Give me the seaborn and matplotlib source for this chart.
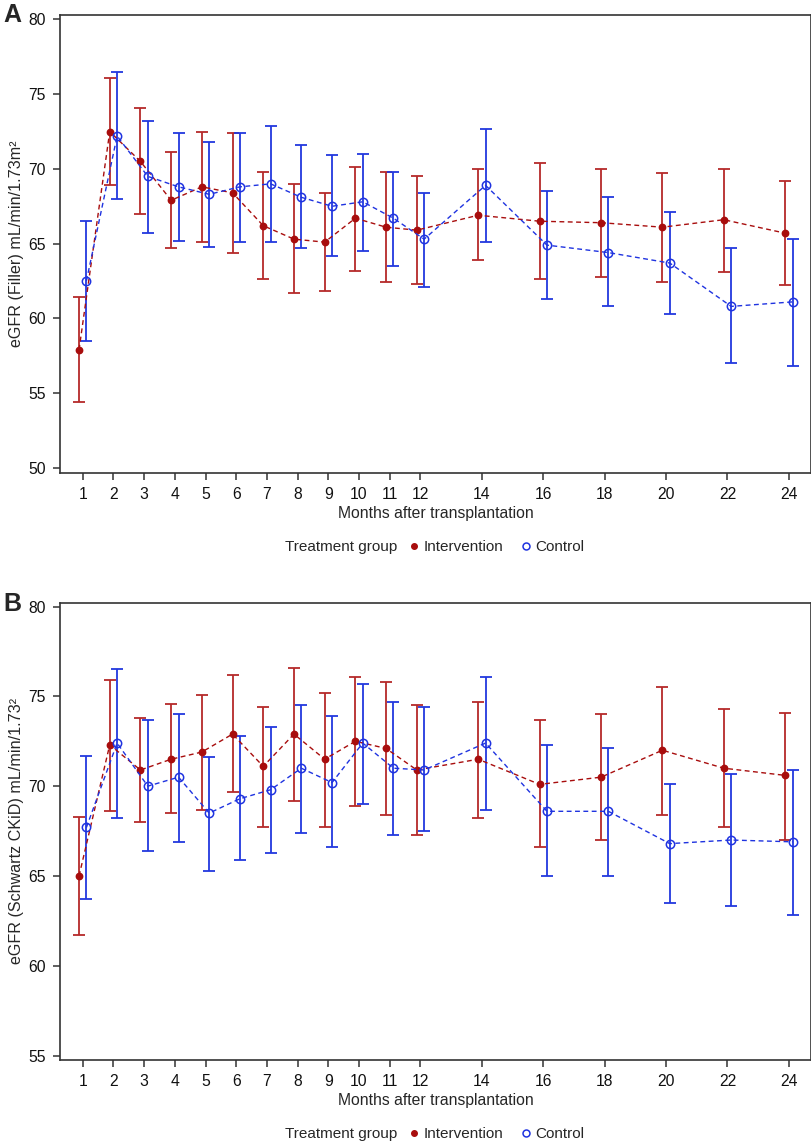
import numpy as np
import pandas as pd
import matplotlib
matplotlib.use("Agg")
import matplotlib.pyplot as plt
from matplotlib.lines import Line2D
import seaborn as sns

# ---------------- data ----------------
months = [1, 2, 3, 4, 5, 6, 7, 8, 9, 10, 11, 12, 14, 16, 18, 20, 22, 24]
xtick_labels = [str(m) for m in months]
groups = ["Intervention", "Control"]

# Panel A: eGFR (Filler)
a_int_mean = [57.9, 72.5, 70.5, 67.9, 68.8, 68.4, 66.2, 65.3, 65.1, 66.7, 66.1, 65.9, 66.9, 66.5, 66.4, 66.1, 66.6, 65.7]
a_int_low  = [54.4, 68.9, 67.0, 64.7, 65.1, 64.4, 62.6, 61.7, 61.8, 63.2, 62.4, 62.3, 63.9, 62.6, 62.8, 62.4, 63.1, 62.2]
a_int_high = [61.4, 76.1, 74.1, 71.1, 72.5, 72.4, 69.8, 69.0, 68.4, 70.1, 69.8, 69.5, 70.0, 70.4, 70.0, 69.7, 70.0, 69.2]
a_ctl_mean = [62.5, 72.2, 69.5, 68.8, 68.3, 68.8, 69.0, 68.1, 67.5, 67.8, 66.7, 65.3, 68.9, 64.9, 64.4, 63.7, 60.8, 61.1]
a_ctl_low  = [58.5, 68.0, 65.7, 65.2, 64.8, 65.1, 65.1, 64.7, 64.2, 64.5, 63.5, 62.1, 65.1, 61.3, 60.8, 60.3, 57.0, 56.8]
a_ctl_high = [66.5, 76.5, 73.2, 72.4, 71.8, 72.4, 72.9, 71.6, 70.9, 71.0, 69.8, 68.4, 72.7, 68.5, 68.1, 67.1, 64.7, 65.3]

# Panel B: eGFR (Schwartz CKiD)
b_int_mean = [65.0, 72.3, 70.9, 71.5, 71.9, 72.9, 71.1, 72.9, 71.5, 72.5, 72.1, 70.9, 71.5, 70.1, 70.5, 72.0, 71.0, 70.6]
b_int_low  = [61.7, 68.6, 68.0, 68.5, 68.7, 69.7, 67.7, 69.2, 67.7, 68.9, 68.4, 67.3, 68.2, 66.6, 67.0, 68.4, 67.7, 67.0]
b_int_high = [68.3, 75.9, 73.8, 74.6, 75.1, 76.2, 74.4, 76.6, 75.2, 76.1, 75.8, 74.5, 74.7, 73.7, 74.0, 75.5, 74.3, 74.1]
b_ctl_mean = [67.7, 72.4, 70.0, 70.5, 68.5, 69.3, 69.8, 71.0, 70.2, 72.4, 71.0, 70.9, 72.4, 68.6, 68.6, 66.8, 67.0, 66.9]
b_ctl_low  = [63.7, 68.2, 66.4, 66.9, 65.3, 65.9, 66.3, 67.4, 66.6, 69.0, 67.3, 67.5, 68.7, 65.0, 65.0, 63.5, 63.3, 62.8]
b_ctl_high = [71.7, 76.5, 73.7, 74.0, 71.6, 72.8, 73.3, 74.5, 73.9, 75.7, 74.7, 74.4, 76.1, 72.3, 72.1, 70.1, 70.7, 70.9]

ylabel_a = "eGFR (Filler) mL/min/1.73m\u00b2"
ylabel_b = "eGFR (Schwartz CKiD) mL/min/1.73\u00b2"
xlabel = "Months after transplantation"
legend_title = "Treatment group"

# ---------------- style ----------------
sns.set_theme(style="ticks")
plt.rcParams["font.family"] = ["Liberation Sans", "DejaVu Sans"]
plt.rcParams["font.size"] = 11

RED = "#A80D0D"
RED_ERR = "#B52A2A"
BLUE = "#1F33E0"
BLUE_ERR = "#2238DE"
OFFSET = 0.12
FS = 11.3
LFS = 11

W, H = 812, 1143
fig = plt.figure(figsize=(W / 100, H / 100), dpi=100)


def make_df(mean, low, high, group):
    return pd.DataFrame({"month": months, "mean": mean, "low": low, "high": high, "group": group})


def draw_panel(ax, df_int, df_ctl, ylim, yticks, ylabel):
    for df, c, ec, off, filled in [(df_int, RED, RED_ERR, -OFFSET, True),
                                   (df_ctl, BLUE, BLUE_ERR, OFFSET, False)]:
        x = df["month"] + off
        ax.errorbar(x, df["mean"], yerr=[df["mean"] - df["low"], df["high"] - df["mean"]],
                    fmt="none", ecolor=ec, elinewidth=1.3, capsize=4, capthick=1.3, zorder=2)
        sns.lineplot(x=x, y=df["mean"], ax=ax, color=c, linestyle=(0, (3.5, 2.5)), linewidth=1.0,
                     marker="o", markersize=4.5 if filled else 6,
                     markerfacecolor=c if filled else "none",
                     markeredgecolor=c, markeredgewidth=1.1, errorbar=None, zorder=3,
                     legend=False)
    ax.set_xlim(0.26, 24.72)
    ax.set_ylim(*ylim)
    ax.set_xticks(months)
    ax.set_xticklabels(xtick_labels)
    ax.set_yticks(yticks)
    ax.set_yticklabels([str(v) for v in yticks])
    ax.set_xlabel(xlabel, fontsize=FS, labelpad=3)
    ax.set_ylabel(ylabel, fontsize=11.6, va="center")
    ax.yaxis.set_label_coords(-43 / 751, 0.5)
    for s in ax.spines.values():
        s.set_color("#333333")
        s.set_linewidth(1.2)
        s.set_visible(True)
    ax.tick_params(axis="both", direction="out", length=5, width=1.1, color="#333333",
                   labelsize=FS, pad=5, labelcolor="#111111")
    ax.grid(False)


def add_legend(ycenter_px):
    y = 1 - ycenter_px / H
    fig.text(285 / W, y, legend_title, ha="left", va="center", fontsize=LFS)
    handles = [Line2D([], [], linestyle="none", marker="o", markersize=4, color=RED,
                      markerfacecolor=RED, markeredgecolor=RED),
               Line2D([], [], linestyle="none", marker="o", markersize=5, color=BLUE,
                      markerfacecolor="none", markeredgecolor=BLUE, markeredgewidth=1.1)]
    fig.legend(handles, groups, loc="center left", bbox_to_anchor=(410 / W, y),
               bbox_transform=fig.transFigure, ncol=2, frameon=False, handlelength=0.5,
               handletextpad=0.4, columnspacing=1.2, borderpad=0, borderaxespad=0,
               fontsize=LFS)


axA = fig.add_axes([60 / W, 1 - 473 / H, 751 / W, 458 / H])
draw_panel(axA, make_df(a_int_mean, a_int_low, a_int_high, groups[0]),
           make_df(a_ctl_mean, a_ctl_low, a_ctl_high, groups[1]),
           (49.65, 80.3), [50, 55, 60, 65, 70, 75, 80], ylabel_a)
add_legend(547)

axB = fig.add_axes([60 / W, 1 - 1060 / H, 751 / W, 457 / H])
draw_panel(axB, make_df(b_int_mean, b_int_low, b_int_high, groups[0]),
           make_df(b_ctl_mean, b_ctl_low, b_ctl_high, groups[1]),
           (54.75, 80.2), [55, 60, 65, 70, 75, 80], ylabel_b)
add_legend(1134)

fig.text(3 / W, 1 - 3 / H, "A", ha="left", va="top", fontsize=18, fontweight="bold")
fig.text(3 / W, 1 - 592 / H, "B", ha="left", va="top", fontsize=18, fontweight="bold")

fig.savefig("out.png", dpi=100)
